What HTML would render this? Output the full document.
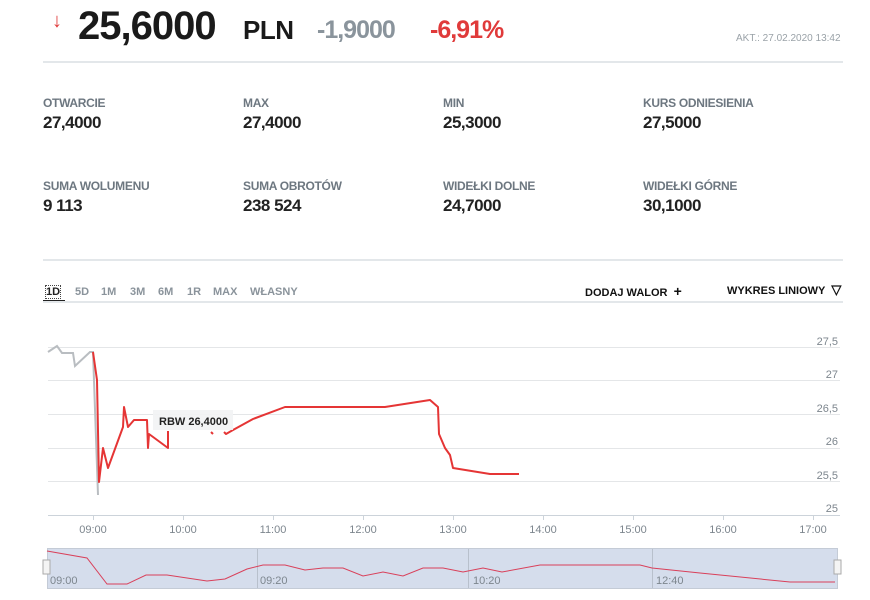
<!DOCTYPE html>
<html><head><meta charset="utf-8"><style>
body{margin:0;width:870px;height:600px;background:#fff;font-family:"Liberation Sans",sans-serif;position:relative;overflow:hidden}
.a{position:absolute;white-space:nowrap}
.lab{font-size:12px;color:#6d7780;font-weight:bold;letter-spacing:-0.3px}
.val{font-size:17px;color:#222;font-weight:bold;letter-spacing:-0.5px}
.hr{position:absolute;left:43px;width:800px;height:2px;background:#e3e7ea}
.tab{font-size:11px;color:#8a939b;font-weight:bold}
</style></head><body>
<div class="a" style="left:52px;top:10px;color:#e03a3a;font-size:20px;font-weight:bold">↓</div>
<div class="a" style="left:78px;top:4px;font-size:40px;font-weight:bold;color:#1a1a1a;letter-spacing:-1px">25,6000</div>
<div class="a" style="left:243px;top:15px;font-size:26px;font-weight:bold;color:#1a1a1a;letter-spacing:-0.5px">PLN</div>
<div class="a" style="left:317px;top:16px;font-size:25px;font-weight:bold;color:#8a949c;letter-spacing:-1px">-1,9000</div>
<div class="a" style="left:430px;top:16px;font-size:25px;font-weight:bold;color:#e03a3a;letter-spacing:-1px">-6,91%</div>
<div class="a" style="left:736px;top:33px;font-size:10px;color:#9aa2a8">AKT.: 27.02.2020 13:42</div>
<div class="hr" style="top:61px"></div>
<div class="a lab" style="left:43px;top:96px">OTWARCIE</div><div class="a val" style="left:43px;top:113px">27,4000</div>
<div class="a lab" style="left:243px;top:96px">MAX</div><div class="a val" style="left:243px;top:113px">27,4000</div>
<div class="a lab" style="left:443px;top:96px">MIN</div><div class="a val" style="left:443px;top:113px">25,3000</div>
<div class="a lab" style="left:643px;top:96px">KURS ODNIESIENIA</div><div class="a val" style="left:643px;top:113px">27,5000</div>
<div class="a lab" style="left:43px;top:179px">SUMA WOLUMENU</div><div class="a val" style="left:43px;top:196px">9 113</div>
<div class="a lab" style="left:243px;top:179px">SUMA OBROTÓW</div><div class="a val" style="left:243px;top:196px">238 524</div>
<div class="a lab" style="left:443px;top:179px">WIDEŁKI DOLNE</div><div class="a val" style="left:443px;top:196px">24,7000</div>
<div class="a lab" style="left:643px;top:179px">WIDEŁKI GÓRNE</div><div class="a val" style="left:643px;top:196px">30,1000</div>
<div class="hr" style="top:259px"></div>
<div class="a tab" style="left:46px;top:286px;color:#222;outline:1px dotted #444">1D</div>
<div class="a" style="left:43px;top:300px;width:22px;height:3px;background:#222"></div>
<div class="a tab" style="left:75px;top:286px">5D</div>
<div class="a tab" style="left:101px;top:286px">1M</div>
<div class="a tab" style="left:130px;top:286px">3M</div>
<div class="a tab" style="left:158px;top:286px">6M</div>
<div class="a tab" style="left:187px;top:286px">1R</div>
<div class="a tab" style="left:213px;top:286px">MAX</div>
<div class="a tab" style="left:250px;top:286px">WŁASNY</div>
<div class="a" style="left:585px;top:283px;font-size:11px;font-weight:bold;color:#111">DODAJ WALOR &nbsp;<span style="font-size:14px">+</span></div>
<div class="a" style="left:727px;top:282px;font-size:11px;font-weight:bold;color:#111">WYKRES LINIOWY &nbsp;<span style="font-size:13px">▽</span></div>
<div class="a" style="left:43px;top:301px;width:800px;height:2px;background:#e3e7ea"></div>
<svg class="a" style="left:0;top:0" width="870" height="600">
<g stroke="#e4e6e8" stroke-width="1">
<line x1="48" x2="840" y1="347.5" y2="347.5"/><line x1="48" x2="840" y1="380.5" y2="380.5"/><line x1="48" x2="840" y1="414.5" y2="414.5"/><line x1="48" x2="840" y1="448.5" y2="448.5"/><line x1="48" x2="840" y1="481.5" y2="481.5"/></g>
<line x1="48" x2="840" y1="515.5" y2="515.5" stroke="#ccd3da"/>
<g stroke="#ccd3da"><line x1="93.5" x2="93.5" y1="515" y2="520"/><line x1="183.5" x2="183.5" y1="515" y2="520"/><line x1="273.5" x2="273.5" y1="515" y2="520"/><line x1="363.5" x2="363.5" y1="515" y2="520"/><line x1="453.5" x2="453.5" y1="515" y2="520"/><line x1="543.5" x2="543.5" y1="515" y2="520"/><line x1="633.5" x2="633.5" y1="515" y2="520"/><line x1="723.5" x2="723.5" y1="515" y2="520"/><line x1="813.5" x2="813.5" y1="515" y2="520"/></g>
<g font-size="11" fill="#7d868e" text-anchor="end"><text x="838" y="345">27,5</text><text x="838" y="378">27</text><text x="838" y="412">26,5</text><text x="838" y="445">26</text><text x="838" y="479">25,5</text><text x="838" y="512">25</text></g>
<g font-size="11" fill="#7d868e" text-anchor="middle"><text x="93" y="533">09:00</text><text x="183" y="533">10:00</text><text x="273" y="533">11:00</text><text x="363" y="533">12:00</text><text x="453" y="533">13:00</text><text x="543" y="533">14:00</text><text x="633" y="533">15:00</text><text x="723" y="533">16:00</text><text x="813" y="533">17:00</text></g>
<polyline fill="none" stroke="#b9bdc1" stroke-width="2" points="48,352 57,346 62,353 73,353 75,366 90,352 93,352 98,495"/>
<polyline fill="none" stroke="#e53535" stroke-width="2" stroke-linejoin="round" points="93,352 97,380 99,482 103,448 108,468 123,427 124,407 128,427 134,420 147,420 148,448 149,434 168,448 168,431"/>
<polyline fill="none" stroke="#e53535" stroke-width="2" points="211,432 213,434"/>
<polyline fill="none" stroke="#e53535" stroke-width="2" stroke-linejoin="round" points="224,432 226,434 233,430 253,419 285,407 385,407 430,400 438,407 439,434 445,448 450,455 453,468 490,474 519,474"/>
<rect x="153" y="410" width="80" height="20" fill="#f2f3f4" opacity="0.9"/>
<text x="159" y="425" font-size="11" font-weight="bold" fill="#222">RBW 26,4000</text>
<rect x="47.5" y="548.5" width="790" height="40" fill="#d5ddec" stroke="#c4cbd6"/>
<g stroke="#b8c0cc"><line x1="257.5" x2="257.5" y1="549" y2="588"/><line x1="468.5" x2="468.5" y1="549" y2="588"/><line x1="652.5" x2="652.5" y1="549" y2="588"/></g>
<polyline fill="none" stroke="#d9405a" stroke-width="1" points="47,551 87,558 107,584 127,584 146,575 167,575 207,581 225,579 247,569 263,565 285,565 305,570 323,568 343,568 363,576 383,572 403,576 423,568 443,568 463,572 483,568 502,572 540,565 640,565 652,568 700,573 790,582 835,582"/>
<g font-size="11" fill="#7d868e"><text x="50" y="584">09:00</text><text x="260" y="584">09:20</text><text x="473" y="584">10:20</text><text x="656" y="584">12:40</text></g>
<rect x="43" y="560" width="7" height="14" fill="#f4f4f4" stroke="#aaa"/>
<rect x="834" y="560" width="7" height="14" fill="#f4f4f4" stroke="#aaa"/>
</svg>
</body></html>
